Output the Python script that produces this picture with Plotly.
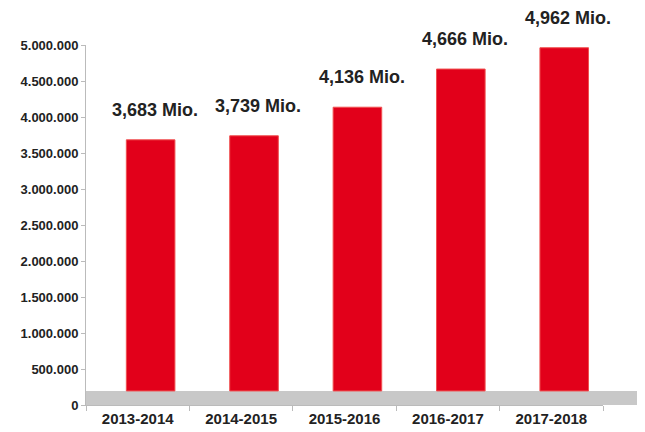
import plotly.graph_objects as go

categories = ["2013-2014", "2014-2015", "2015-2016", "2016-2017", "2017-2018"]
values = [3683000, 3739000, 4136000, 4666000, 4962000]
labels = ["3,683 Mio.", "3,739 Mio.", "4,136 Mio.", "4,666 Mio.", "4,962 Mio."]
tick_vals = [0, 500000, 1000000, 1500000, 2000000, 2500000, 3000000, 3500000, 4000000, 4500000, 5000000]
tick_text = ["0", "500.000", "1.000.000", "1.500.000", "2.000.000", "2.500.000",
             "3.000.000", "3.500.000", "4.000.000", "4.500.000", "5.000.000"]
floor_level = 195000

fig = go.Figure()
fig.add_trace(go.Bar(
    x=categories,
    y=[v - floor_level for v in values],
    base=[floor_level] * len(values),
    width=0.47,
    offset=-0.11,
    marker=dict(color="#E2001A", line=dict(color="#F05050", width=1)),
    hoverinfo="skip",
))

for c, v, t in zip(categories, values, labels):
    fig.add_annotation(x=c, y=v, text=t, showarrow=False, yanchor="middle",
                       yshift=30, xshift=17,
                       font=dict(family="Arial, Liberation Sans", size=18,
                                 color="#222222", weight="bold"))

fig.add_shape(type="rect", xref="paper", yref="y", x0=0, x1=1.085, y0=0, y1=floor_level,
              fillcolor="#C8C8C8", line=dict(width=0), layer="below")

fig.update_layout(
    width=637, height=424,
    margin=dict(l=78, r=42, t=37, b=27, autoexpand=False),
    paper_bgcolor="white", plot_bgcolor="white",
    showlegend=False,
)
fig.update_xaxes(
    showline=True, linecolor="#BBBBBB", linewidth=1,
    ticks="outside", tickson="boundaries", ticklen=5, tickcolor="#BBBBBB",
    tickfont=dict(family="Arial, Liberation Sans", size=15, color="#222222", weight="bold"),
    showgrid=False, range=[-0.5, 4.5], automargin=False,
)
fig.update_yaxes(
    range=[0, 5000000], tickvals=tick_vals, ticktext=tick_text,
    showline=True, linecolor="#BBBBBB", linewidth=1,
    ticks="outside", ticklen=4, tickcolor="#BBBBBB",
    tickfont=dict(family="Arial, Liberation Sans", size=13, color="#222222", weight="bold"),
    showgrid=False, zeroline=False, automargin=False,
)

fig.write_html("out.html")
